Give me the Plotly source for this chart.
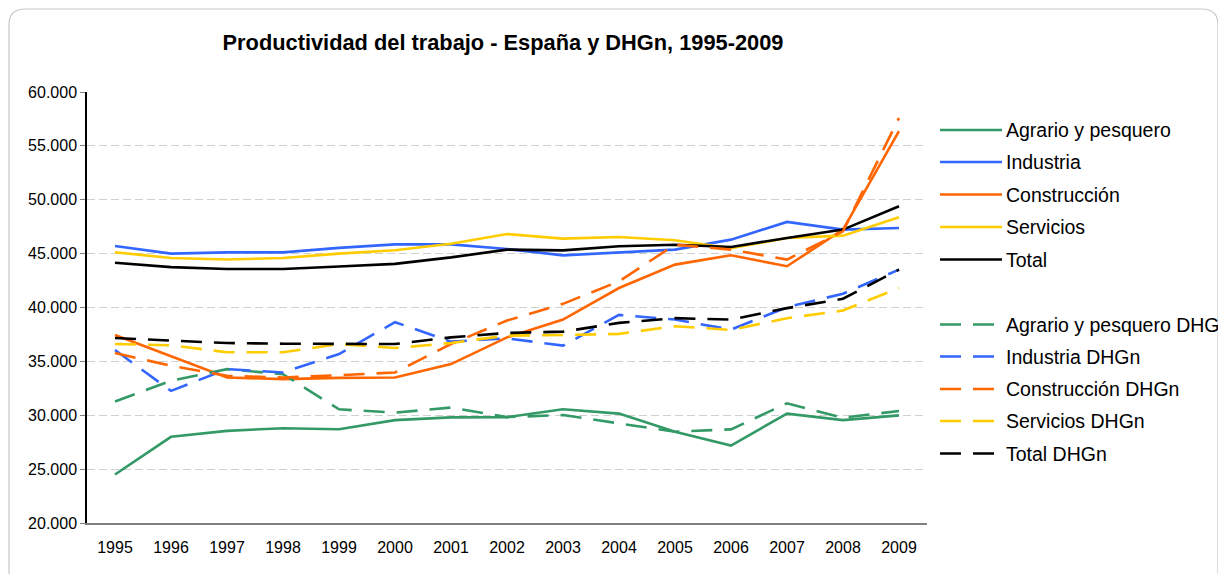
import plotly.graph_objects as go

# ---------------- data ----------------
years = ["1995", "1996", "1997", "1998", "1999", "2000", "2001", "2002",
         "2003", "2004", "2005", "2006", "2007", "2008", "2009"]

agrario = [24500, 28000, 28550, 28800, 28700, 29550, 29800, 29830, 30550, 30150, 28470, 27190, 30150, 29550, 29990]
industria = [45700, 45000, 45120, 45120, 45530, 45860, 45860, 45430, 44840, 45120, 45370, 46300, 47940, 47230, 47380]
construccion = [37450, 35470, 33500, 33350, 33470, 33500, 34750, 37230, 38880, 41810, 43980, 44850, 43830, 47230, 56360]
servicios = [45120, 44600, 44450, 44600, 45000, 45310, 45920, 46820, 46390, 46540, 46240, 45500, 46450, 46670, 48370]
total = [44150, 43750, 43570, 43570, 43800, 44050, 44650, 45370, 45300, 45680, 45830, 45620, 46450, 47230, 49400]

agrario_dhgn = [31270, 33200, 34280, 33810, 30550, 30240, 30710, 29830, 30020, 29220, 28470, 28690, 31110, 29770, 30390]
industria_dhgn = [36050, 32260, 34280, 33970, 35680, 38640, 36830, 37140, 36460, 39320, 38880, 37950, 40030, 41280, 43520]
construccion_dhgn = [35770, 34590, 33660, 33500, 33720, 33970, 36610, 38790, 40340, 42430, 45830, 45370, 44450, 47070, 57600]
servicios_dhgn = [36610, 36490, 35840, 35840, 36610, 36240, 36710, 37390, 37450, 37550, 38260, 37920, 39010, 39720, 41810]
total_dhgn = [37170, 36960, 36700, 36640, 36640, 36610, 37230, 37640, 37760, 38570, 39010, 38880, 39940, 40810, 43520]

names = ["Agrario y pesquero", "Industria", "Construcción", "Servicios", "Total"]
suffix = " DHGn"
colors = ["#339966", "#3366FF", "#FF6600", "#FFCC00", "#000000"]
solid_series = [agrario, industria, construccion, servicios, total]
dhgn_series = [agrario_dhgn, industria_dhgn, construccion_dhgn, servicios_dhgn, total_dhgn]

# ---------------- layout geometry (page pixels) ----------------
OFF = 8                      # default body margin of the html page
PAGE_W, PAGE_H = 1226, 574
W, H = PAGE_W - OFF, PAGE_H - OFF
L, R, T, B = 87, 927, 92, 523   # plot area in page pixels
DASH = "21px,12px"
FONT = "Liberation Sans, Arial, sans-serif"


def px_x(px):
    return (px - L) / (R - L)


def px_y(py):
    return (B - py) / (B - T)


fig = go.Figure()

for name, color, vals in zip(names, colors, solid_series):
    fig.add_trace(go.Scatter(x=years, y=vals, mode="lines", name=name,
                             line=dict(color=color, width=2.6), showlegend=False))
for name, color, vals in zip(names, colors, dhgn_series):
    fig.add_trace(go.Scatter(x=years, y=vals, mode="lines", name=name + suffix,
                             line=dict(color=color, width=2.6, dash=DASH), showlegend=False))

shapes = []
annotations = []

# chart frame (rounded rectangle)
x0, y0, x1, y1, rad = 9, 9, 1218, 590, 16
path = (f"M {px_x(x0)},{px_y(y0 + rad)} "
        f"Q {px_x(x0)},{px_y(y0)} {px_x(x0 + rad)},{px_y(y0)} "
        f"L {px_x(x1 - rad)},{px_y(y0)} "
        f"Q {px_x(x1)},{px_y(y0)} {px_x(x1)},{px_y(y0 + rad)} "
        f"L {px_x(x1)},{px_y(y1 - rad)} "
        f"Q {px_x(x1)},{px_y(y1)} {px_x(x1 - rad)},{px_y(y1)} "
        f"L {px_x(x0 + rad)},{px_y(y1)} "
        f"Q {px_x(x0)},{px_y(y1)} {px_x(x0)},{px_y(y1 - rad)} Z")
shapes.append(dict(type="path", xref="paper", yref="paper", path=path,
                   line=dict(color="#C8C8C8", width=1.2), layer="below"))

# manual legend
leg_y_solid = [130, 162, 194.5, 227, 259.5]
leg_y_dhgn = [324.5, 356.5, 389, 421, 453.5]
for i, (name, color) in enumerate(zip(names, colors)):
    for ly, label, dash in ((leg_y_solid[i], name, "solid"),
                            (leg_y_dhgn[i], name + suffix, DASH)):
        shapes.append(dict(type="line", xref="paper", yref="paper",
                           x0=px_x(940), x1=px_x(1002), y0=px_y(ly), y1=px_y(ly),
                           line=dict(color=color, width=2.6, dash=dash)))
        annotations.append(dict(xref="paper", yref="paper", x=px_x(1004), y=px_y(ly),
                                xanchor="left", yanchor="middle", showarrow=False,
                                text=label, font=dict(size=19.5, color="#000000", family=FONT)))

fig.update_layout(
    width=W, height=H,
    margin=dict(l=L - OFF, r=PAGE_W - R, t=T - OFF, b=PAGE_H - B),
    paper_bgcolor="white", plot_bgcolor="white",
    separators=",.",
    hovermode=False,
    showlegend=False,
    title=dict(text="<b>Productividad del trabajo - España y DHGn, 1995-2009</b>",
               x=px_x(503), xref="paper", xanchor="center",
               y=1 - (42 - OFF) / H, yanchor="middle",
               font=dict(size=21.8, color="#000000", family=FONT)),
    font=dict(family=FONT, color="#000000"),
    shapes=shapes,
    annotations=annotations,
)

fig.update_xaxes(
    type="category", range=[-0.5, len(years) - 0.5],
    showgrid=False, showline=True, linecolor="#808080", linewidth=2,
    ticks="", tickfont=dict(size=16, color="#000000"), ticklabelstandoff=9,
    zeroline=False, fixedrange=True,
)
fig.update_yaxes(
    range=[20000, 60000], dtick=5000, tick0=20000,
    tickformat=",.0f",
    showgrid=True, gridcolor="#CFCFCF", griddash="8px,4px", gridwidth=1,
    showline=True, linecolor="#000000", linewidth=1.5,
    ticks="outside", ticklen=5, tickcolor="#808080",
    tickfont=dict(size=16, color="#000000"),
    zeroline=False, fixedrange=True,
)

fig.write_html("out.html")
